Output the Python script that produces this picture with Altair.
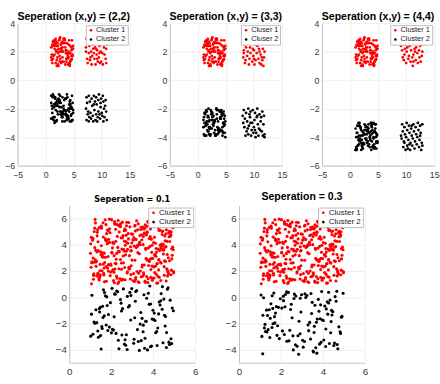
import altair as alt
import pandas as pd

RED = "#ff0000"
BLACK = "#000000"

# ---------------- top row: dense blocks ----------------
D1X = [1.2, 3.7, 2.5, 4.8, 1.9, 3.1, 4.3, 2.2, 1.5, 3.9,
       2.8, 4.6, 1.1, 3.4, 2.0, 4.1, 1.7, 3.0, 4.9, 2.6,
       1.4, 3.6, 2.3, 4.4, 1.8, 3.2, 4.7, 2.9, 1.3, 3.8,
       2.1, 4.2, 1.6, 3.5, 2.7, 4.0, 1.0, 3.3, 4.5, 2.4,
       1.9, 3.7, 2.8, 4.8, 1.2, 3.0, 4.3, 2.5, 1.6, 4.6,
       3.4, 2.2, 4.1, 1.5, 3.9, 2.9, 4.7, 1.1, 3.6, 2.0,
       4.4, 1.8, 3.1, 2.6, 4.9, 1.4, 3.3, 2.3, 4.0, 1.7,
       2.7, 4.5, 1.3, 3.8, 2.1, 4.2, 1.0, 3.5, 2.4, 4.8,
       1.6, 3.2, 2.9, 4.6, 1.9, 3.9, 2.2, 4.3, 1.2, 3.0,
       4.1, 2.5, 3.7, 1.5, 4.7, 2.8, 1.8, 3.4, 4.4, 2.0]
D1Y = [2.4, 1.3, 2.9, 1.7, 2.1, 2.6, 1.1, 1.9, 2.7, 1.5,
       1.2, 2.3, 1.8, 2.8, 1.4, 2.0, 2.5, 1.6, 2.2, 3.0,
       2.7, 1.9, 1.0, 2.4, 2.9, 1.3, 1.7, 2.1, 1.5, 2.6,
       1.6, 2.8, 2.2, 1.1, 2.5, 1.8, 2.3, 2.9, 1.4, 2.0,
       2.0, 1.5, 2.6, 2.2, 1.2, 2.7, 1.9, 1.3, 2.4, 1.7,
       2.9, 1.1, 1.6, 2.5, 1.8, 2.3, 2.8, 1.4, 2.1, 1.0,
       1.3, 2.6, 2.0, 1.5, 2.4, 1.7, 2.9, 2.2, 1.1, 2.7,
       2.2, 1.4, 2.7, 1.9, 2.6, 1.2, 1.6, 2.3, 2.8, 1.8,
       1.8, 2.9, 1.3, 2.1, 2.7, 1.6, 2.4, 1.0, 2.5, 2.3,
       2.5, 1.7, 2.1, 2.8, 1.5, 2.0, 1.2, 2.6, 1.9, 2.4]
D2X = [3.3, 1.4, 4.6, 2.1, 3.8, 1.0, 2.7, 4.2, 1.7, 3.5,
       4.9, 2.4, 1.2, 3.9, 2.9, 4.4, 1.6, 3.1, 2.2, 4.7,
       1.9, 3.6, 2.6, 4.0, 1.3, 3.2, 4.8, 2.0, 3.7, 1.5,
       4.3, 2.8, 1.1, 3.4, 2.3, 4.5, 1.8, 3.0, 4.1, 2.5,
       1.6, 4.7, 3.2, 2.0, 4.2, 1.4, 3.6, 2.7, 1.0, 3.9,
       2.2, 4.0, 1.7, 3.3, 4.6, 2.5, 1.2, 3.8, 2.9, 4.4,
       3.1, 1.5, 4.8, 2.3, 1.9, 3.5, 4.1, 1.1, 2.6, 4.9,
       1.8, 3.7, 2.1, 4.5, 3.0, 1.3, 2.8, 4.3, 1.6, 3.4,
       4.6, 2.4, 3.9, 1.0, 2.0, 4.2, 3.2, 1.7, 4.7, 2.7,
       1.4, 3.0, 4.4, 2.2, 3.6, 1.9, 4.0, 2.5, 1.2, 3.8]
D2Y = [-1.4, -2.6, -1.9, -2.2, -2.8, -1.1, -2.4, -1.7, -2.9, -1.3,
       -2.1, -1.6, -2.7, -1.2, -2.5, -1.8, -3.0, -2.3, -1.5, -2.0,
       -2.9, -1.3, -2.2, -2.6, -1.0, -2.0, -1.6, -2.8, -2.4, -1.7,
       -1.5, -2.3, -1.8, -2.9, -1.4, -2.5, -2.1, -1.2, -2.7, -1.9,
       -2.6, -1.1, -2.4, -1.7, -2.0, -2.8, -1.3, -2.2, -1.6, -2.5,
       -1.8, -2.7, -1.2, -2.1, -2.9, -1.5, -2.3, -1.0, -2.6, -1.4,
       -2.2, -1.9, -2.8, -1.3, -1.7, -2.4, -2.0, -2.7, -1.1, -2.3,
       -1.6, -2.5, -1.4, -2.0, -2.6, -1.2, -1.9, -2.9, -1.7, -2.1,
       -2.4, -1.0, -2.1, -2.7, -1.5, -2.2, -1.8, -1.3, -2.8, -1.6,
       -1.1, -2.9, -1.7, -2.4, -2.2, -1.8, -2.5, -1.4, -2.0, -2.7]
D3Y = [-2.3, -3.7, -2.8, -3.1, -2.0, -3.9, -2.5, -3.4, -2.1, -3.6,
       -3.0, -2.4, -3.8, -2.7, -3.3, -2.2, -3.5, -2.9, -4.0, -2.6,
       -3.2, -2.9, -2.1, -3.6, -2.5, -3.9, -2.7, -3.0, -2.3, -3.4,
       -2.8, -3.5, -2.2, -3.8, -3.1, -2.6, -3.3, -2.0, -3.7, -2.4,
       -3.6, -2.1, -3.2, -2.5, -3.9, -2.8, -2.3, -3.4, -2.9, -3.0,
       -2.4, -3.3, -2.7, -3.0, -2.2, -3.7, -3.1, -2.6, -3.5, -3.8,
       -3.9, -2.6, -3.5, -2.3, -2.9, -3.2, -2.0, -3.8, -2.7, -3.1,
       -2.5, -3.0, -2.4, -3.6, -3.4, -2.1, -2.8, -3.3, -2.2, -3.7,
       -3.1, -3.8, -2.9, -2.2, -2.6, -3.5, -3.9, -2.4, -3.0, -2.8,
       -2.7, -2.3, -3.4, -3.9, -3.2, -2.5, -3.6, -2.1, -3.3, -2.9]
D4Y = [-3.4, -4.6, -3.1, -4.2, -3.8, -4.9, -3.5, -4.0, -3.2, -4.7,
       -4.3, -3.7, -4.8, -3.0, -4.1, -3.6, -4.5, -3.3, -3.9, -4.4,
       -3.9, -4.1, -3.5, -4.7, -3.2, -4.3, -3.8, -4.9, -3.6, -3.0,
       -4.5, -3.3, -4.0, -3.7, -4.8, -3.1, -4.2, -3.5, -4.6, -3.8,
       -3.2, -4.8, -3.6, -4.4, -3.0, -4.6, -3.9, -4.1, -3.4, -4.3,
       -4.7, -3.5, -4.3, -3.1, -4.0, -3.8, -4.9, -3.2, -4.2, -3.6,
       -3.6, -4.2, -3.9, -4.5, -3.3, -4.0, -3.7, -4.7, -3.1, -4.4,
       -4.1, -3.0, -4.6, -3.4, -4.4, -3.7, -3.2, -4.8, -3.9, -4.5,
       -3.7, -4.4, -3.3, -4.9, -3.5, -4.1, -4.6, -3.0, -4.3, -3.8,
       -4.0, -3.8, -4.7, -3.6, -4.2, -3.4, -3.1, -4.5, -3.7, -4.9]

# ---------------- top row: sparse blocks ----------------
S1C1X = [7.3, 7.6, 7.2, 8.0, 8.4, 8.8, 9.2, 9.6, 10.0, 10.4, 10.8, 10.6, 7.4, 7.9, 8.3,
         8.7, 9.1, 9.5, 9.9, 10.2, 9.7, 10.7, 8.1, 8.6, 9.0, 9.4, 10.1, 7.7, 8.9, 9.3,
         10.5, 7.5, 8.2, 9.8, 10.9, 8.5, 9.2, 7.8, 10.3, 8.0, 9.6, 10.8, 7.2, 9.0, 8.7]
S1C1Y = [2.9, 2.6, 2.3, 2.8, 2.5, 2.3, 2.1, 2.4, 2.6, 2.3, 2.2, 2.7, 1.5, 1.4, 1.7,
         1.5, 1.8, 1.6, 1.3, 1.1, 1.2, 1.5, 2.0, 1.9, 2.6, 2.9, 1.9, 1.9, 1.1, 1.3,
         1.8, 1.2, 1.1, 2.0, 2.5, 2.2, 1.5, 2.4, 2.9, 1.6, 1.9, 1.2, 2.0, 2.2, 2.7]
S1C2X = [7.3, 7.7, 8.2, 8.6, 9.0, 9.5, 9.9, 10.3, 10.7, 7.4, 7.2, 7.5, 7.3, 7.7, 8.1,
         8.5, 8.9, 9.3, 9.7, 10.1, 10.5, 10.8, 10.4, 8.3, 8.7, 9.1, 9.4, 9.8, 10.0, 8.0,
         7.9, 8.4, 9.2, 10.6, 10.2, 8.8, 9.6, 7.6, 9.0, 10.9, 8.6, 9.4, 7.8, 10.3, 9.8]
S1C2Y = [-1.2, -1.1, -1.3, -1.1, -1.2, -1.0, -1.3, -1.5, -1.4, -1.6, -2.0, -2.4, -2.8, -2.9, -2.7,
         -2.9, -2.8, -2.6, -2.7, -2.5, -2.6, -2.2, -2.0, -1.8, -2.1, -1.7, -2.2, -1.9, -2.3, -2.3,
         -1.5, -2.5, -2.9, -1.8, -1.1, -1.5, -2.4, -2.2, -2.4, -2.8, -1.7, -1.4, -2.6, -2.9, -1.6]
S2C1X = [8.1, 8.3, 8.2, 8.1, 8.5, 8.8, 8.6, 9.0, 9.3, 9.4, 9.2, 9.7, 9.9, 10.0, 10.2,
         10.4, 10.6, 10.5, 10.8, 11.0, 11.3, 11.5, 11.7, 11.2, 11.6, 11.9, 11.4, 11.1, 10.9, 10.3,
         9.6, 9.1, 8.4, 8.9, 10.1, 11.8, 10.7, 9.5, 11.0, 8.7, 11.9, 10.0, 9.8, 11.4, 8.2]
S2C1Y = [2.9, 2.5, 2.1, 1.6, 1.4, 1.7, 2.3, 2.7, 2.3, 1.9, 1.5, 1.3, 1.7, 2.1, 2.5,
         2.9, 2.4, 1.9, 1.5, 1.2, 1.1, 1.4, 1.0, 1.8, 2.2, 2.0, 2.6, 2.8, 2.2, 1.4,
         2.6, 1.1, 1.2, 2.0, 1.1, 1.6, 2.7, 2.9, 2.0, 2.8, 2.9, 1.5, 2.2, 1.6, 1.9]
S2C2X = [8.2, 8.6, 9.0, 9.4, 9.8, 10.2, 10.6, 11.0, 11.5, 11.8, 8.4, 8.8, 9.3, 9.7, 10.1,
         10.5, 11.2, 11.7, 8.3, 8.7, 9.1, 9.6, 10.0, 10.4, 10.9, 11.4, 11.9, 8.5, 9.0, 9.5,
         10.3, 10.8, 11.6, 11.9, 9.2, 10.7, 8.1, 11.3, 9.9, 10.6, 8.9, 11.1, 9.4, 10.2, 8.0]
S2C2Y = [-2.1, -2.3, -2.0, -2.2, -2.1, -2.3, -2.0, -2.4, -2.2, -2.5, -2.7, -2.9, -2.6, -3.0, -2.8,
         -2.6, -2.9, -3.1, -3.3, -3.6, -3.2, -3.5, -3.3, -3.7, -3.4, -3.6, -3.8, -3.9, -3.8, -3.9,
         -4.0, -3.9, -3.9, -4.0, -2.4, -3.1, -3.0, -2.6, -3.7, -2.5, -3.4, -3.5, -3.0, -3.5, -2.5]
S3C1X = [9.2, 9.5, 9.9, 10.3, 10.6, 11.0, 11.4, 11.8, 12.2, 12.5, 9.3, 9.7, 10.1, 10.5, 10.9,
         11.3, 11.6, 12.0, 12.4, 12.8, 9.6, 10.0, 10.4, 10.8, 11.2, 11.7, 12.1, 12.6, 9.4, 10.2,
         11.5, 12.3, 11.1, 9.8, 12.7, 10.7, 11.9, 9.1, 12.9, 11.3]
S3C1Y = [2.9, 2.7, 2.5, 2.8, 2.4, 2.9, 2.6, 2.3, 2.7, 2.4, 2.1, 1.8, 2.0, 1.7, 2.1,
         1.8, 2.0, 1.9, 1.6, 1.7, 1.4, 1.2, 1.5, 1.3, 1.0, 1.4, 1.2, 1.3, 1.6, 2.3,
         2.2, 2.1, 1.6, 2.2, 2.5, 2.6, 2.8, 2.4, 2.0, 1.3]
S3C2X = [9.3, 9.7, 10.1, 10.5, 10.9, 11.3, 11.7, 12.1, 12.5, 12.9, 9.4, 9.8, 10.2, 10.6, 11.0,
         11.4, 11.8, 12.2, 12.6, 9.2, 9.6, 10.0, 10.4, 10.8, 11.2, 11.6, 12.0, 12.4, 12.8, 9.5,
         9.9, 10.3, 10.7, 11.1, 11.5, 12.3, 12.7, 10.2, 11.9, 9.1, 12.9, 11.0, 10.6, 12.5, 9.7]
S3C2Y = [-3.1, -3.3, -3.0, -3.2, -3.4, -3.1, -3.3, -3.0, -3.2, -3.1, -3.6, -3.8, -3.5, -3.7, -3.9,
         -3.6, -3.8, -3.5, -3.7, -4.1, -4.3, -4.0, -4.2, -4.4, -4.1, -4.3, -4.0, -4.2, -4.4, -4.7,
         -4.9, -4.8, -4.9, -4.6, -4.8, -4.7, -4.9, -4.6, -4.5, -3.9, -4.6, -3.2, -4.5, -3.9, -4.4]

# ---------------- bottom row ----------------
RX = [3.47, 1.82, 4.61, 2.25, 1.13, 3.98, 2.74, 4.36, 1.59, 3.02, 4.87, 2.41, 1.36, 3.65, 2.08, 4.19, 1.71, 3.33, 4.72, 2.56,
      1.94, 4.04, 2.87, 3.51, 1.27, 4.48, 2.13, 3.79, 1.66, 4.93, 2.62, 3.16, 1.05, 4.27, 2.39, 3.88, 1.48, 4.66, 2.95, 3.24,
      4.15, 1.38, 3.71, 2.49, 4.82, 1.77, 3.09, 2.21, 4.54, 1.11, 3.43, 2.68, 4.01, 1.89, 3.57, 2.32, 4.39, 1.54, 3.84, 2.79,
      2.03, 4.58, 1.62, 3.36, 2.91, 4.24, 1.19, 3.73, 2.47, 4.97, 1.85, 3.12, 2.64, 4.43, 1.31, 3.95, 2.18, 4.69, 1.74, 3.28,
      3.61, 2.37, 4.76, 1.45, 3.19, 2.83, 4.12, 1.02, 3.54, 2.26, 4.63, 1.69, 3.91, 2.52, 4.31, 1.23, 3.67, 2.98, 4.85, 1.57,
      1.29, 3.81, 2.15, 4.47, 1.92, 3.39, 2.71, 4.09, 1.41, 3.62, 2.44, 4.79, 1.16, 3.26, 2.89, 4.52, 1.78, 3.04, 2.34, 4.21,
      4.41, 1.64, 3.14, 2.58, 4.91, 1.34, 3.76, 2.06, 4.28, 1.83, 3.46, 2.77, 4.64, 1.08, 3.93, 2.29, 4.17, 1.52, 3.58, 2.92,
      2.66, 4.33, 1.24, 3.87, 2.12, 4.73, 1.49, 3.21, 2.85, 4.06, 1.73, 3.69, 2.43, 4.89, 1.37, 3.11, 2.59, 4.46, 1.97, 3.44,
      3.29, 1.99, 4.57, 2.36, 3.64, 1.21, 4.26, 2.97, 3.07, 1.67, 4.81, 2.19, 3.52, 1.43, 4.13, 2.73, 3.83, 1.09, 4.68, 2.51,
      1.58, 4.86, 2.94, 3.18, 1.76, 4.37, 2.27, 3.96, 1.33, 4.59, 2.61, 3.41, 1.87, 4.02, 2.48, 3.74, 1.15, 4.44, 2.09, 3.59,
      4.71, 2.22, 3.34, 1.61, 4.18, 2.81, 3.63, 1.26, 4.94, 2.07, 3.86, 1.51, 4.29, 2.69, 3.13, 1.81, 4.53, 2.35, 3.77, 1.04,
      2.54, 3.92, 1.44, 4.62, 2.31, 3.48, 1.91, 4.11, 2.76, 3.27, 1.18, 4.77, 2.46, 3.68, 1.63, 4.34, 2.88, 3.03, 1.39, 4.96,
      3.89, 1.53, 4.23, 2.67, 3.37, 1.06, 4.49, 2.17, 3.81, 1.72, 4.08, 2.93, 3.56, 1.28, 4.74, 2.42, 3.22, 1.86, 4.38, 2.63,
      1.35, 4.14, 2.84, 3.53, 1.68, 4.92, 2.24, 3.38, 1.95, 4.67, 2.53, 3.78, 1.12, 4.22, 2.78, 3.49, 1.56, 4.83, 2.04, 3.17,
      4.51, 2.11, 3.72, 1.47, 4.05, 2.57, 3.31, 1.79, 4.78, 2.33, 3.97, 1.22, 4.42, 2.86, 3.08, 1.65, 4.16, 2.45, 3.66, 1.93,
      2.28, 3.58, 1.07, 4.32, 2.72, 3.23, 1.88, 4.65, 2.16, 3.85, 1.42, 4.55, 2.99, 3.42, 1.17, 4.07, 2.38, 3.94, 1.75, 4.88,
      3.06, 1.46, 4.45, 2.02, 3.49, 1.84, 4.27, 2.65, 3.75, 1.32, 4.84, 2.23, 3.15, 1.98, 4.56, 2.82, 3.61, 1.25, 4.35, 2.14,
      1.86, 4.25, 2.55, 3.32, 1.14, 4.75, 2.96, 3.55, 1.62, 4.03, 2.44, 3.89, 1.53, 4.61, 2.18, 3.26, 1.01, 4.98, 2.71, 3.71]
RY = [2.31, 5.14, 3.87, 1.62, 4.45, 2.96, 5.73, 1.28, 3.39, 4.82, 2.07, 5.51, 1.84, 3.66, 4.19, 2.58, 5.92, 1.13, 3.02, 4.71,
      4.93, 1.47, 3.18, 5.36, 2.69, 4.04, 1.91, 5.67, 2.24, 3.83, 5.08, 1.36, 4.58, 2.85, 3.47, 5.81, 1.69, 4.27, 2.41, 3.95,
      1.75, 3.56, 5.42, 2.14, 4.67, 1.22, 3.91, 5.19, 2.78, 4.36, 1.57, 3.24, 5.63, 2.49, 4.88, 1.05, 3.73, 5.27, 2.91, 4.12,
      3.44, 5.87, 2.52, 4.21, 1.39, 3.68, 5.02, 2.83, 4.54, 1.96, 3.11, 5.45, 2.27, 4.79, 1.64, 3.97, 5.58, 2.05, 4.33, 1.18,
      5.29, 2.18, 4.62, 1.54, 3.81, 5.71, 2.39, 4.08, 1.87, 3.35, 5.16, 2.66, 4.44, 1.31, 3.58, 5.95, 2.94, 4.15, 1.72, 3.07,
      2.76, 4.49, 1.11, 3.62, 5.24, 2.01, 4.73, 3.29, 1.49, 5.53, 2.88, 4.26, 1.67, 3.92, 5.38, 2.34, 4.86, 1.26, 3.52, 5.77,
      4.06, 1.83, 5.49, 2.63, 3.21, 4.97, 1.42, 3.77, 5.11, 2.22, 4.39, 1.94, 5.64, 2.71, 3.43, 4.65, 1.08, 5.33, 2.47, 3.86,
      1.34, 3.99, 2.86, 5.21, 4.11, 1.77, 3.48, 5.84, 2.16, 4.59, 3.05, 1.59, 5.41, 2.93, 4.24, 1.21, 3.64, 5.06, 2.54, 4.77,
      5.62, 2.44, 4.31, 1.16, 3.74, 5.28, 2.09, 4.84, 1.81, 3.37, 5.88, 2.59, 4.02, 1.45, 3.13, 5.46, 2.81, 4.52, 1.63, 3.69,
      3.16, 5.01, 1.73, 4.42, 2.35, 3.84, 5.57, 1.29, 4.69, 2.74, 3.54, 5.18, 1.99, 4.18, 2.62, 5.79, 1.38, 3.94, 2.11, 4.91,
      1.92, 4.27, 3.33, 5.69, 2.56, 4.87, 1.14, 3.59, 5.31, 2.04, 4.63, 3.26, 1.53, 5.12, 2.83, 4.09, 1.68, 5.48, 3.76, 2.29,
      4.55, 2.97, 5.34, 1.24, 3.81, 2.46, 5.97, 4.13, 1.86, 3.41, 2.67, 5.04, 1.33, 4.76, 3.08, 5.59, 2.19, 4.37, 1.76, 3.63,
      2.12, 5.44, 1.58, 3.97, 4.72, 1.03, 3.31, 5.66, 2.73, 4.47, 1.89, 3.53, 5.21, 2.36, 4.92, 1.41, 3.86, 5.09, 2.61, 4.29,
      5.17, 3.72, 2.28, 4.64, 1.19, 5.52, 2.91, 4.01, 1.65, 3.27, 5.74, 2.43, 4.51, 1.09, 3.67, 5.26, 2.02, 4.81, 3.38, 1.51,
      3.61, 1.27, 4.96, 2.51, 5.43, 3.15, 1.84, 4.35, 2.79, 5.86, 1.44, 3.79, 5.03, 2.26, 4.57, 1.71, 3.45, 5.61, 2.95, 4.19,
      1.46, 4.83, 2.64, 5.13, 3.52, 1.97, 4.43, 2.17, 5.78, 3.89, 1.32, 4.68, 2.84, 5.35, 1.79, 3.23, 4.98, 2.38, 5.55, 3.71,
      4.38, 2.03, 3.64, 5.93, 1.61, 4.16, 2.89, 5.24, 1.12, 3.46, 4.74, 2.57, 5.07, 1.93, 3.82, 4.46, 1.23, 5.68, 2.68, 3.18,
      2.49, 5.32, 1.37, 4.06, 2.99, 5.83, 3.57, 1.74, 4.61, 2.32, 5.39, 1.52, 3.93, 4.85, 2.15, 5.15, 3.36, 1.88, 4.23, 5.01]
B4X = [1.52, 2.31, 3.64, 4.12, 1.08, 2.87, 3.29, 4.71, 1.76, 2.49, 3.92, 4.38, 1.27, 2.06, 3.47, 4.85, 1.63, 2.72, 3.15, 4.54,
       4.26, 1.39, 2.58, 3.81, 1.91, 4.63, 2.14, 3.56, 1.02, 4.91, 2.93, 3.07, 1.68, 4.17, 2.44, 3.73, 1.45, 4.44, 2.66, 3.38,
       2.19, 3.95, 1.57, 4.78, 2.82, 3.21, 1.13, 4.05, 2.37, 3.69, 1.84, 4.59, 2.98, 3.43, 1.31, 4.33, 2.01, 3.87, 1.72, 4.96,
       3.52, 1.96, 4.47, 2.26, 3.12, 1.49, 4.81, 2.69, 3.77, 1.18, 4.22, 2.54, 3.34, 1.87, 4.68, 2.11, 3.61, 1.59, 4.09, 2.77,
       1.43, 4.57, 2.89, 3.59, 1.67, 4.36, 2.23, 3.84, 1.22, 4.75, 2.47, 3.25, 1.79, 4.02, 2.63, 3.99, 1.55, 4.51, 2.34, 3.17,
       4.88, 2.04, 3.41, 1.36, 4.29, 2.76, 3.67, 1.81, 4.64, 2.16, 3.09, 1.61, 4.43, 2.51, 3.88, 1.06, 4.19, 2.94, 3.53, 1.48]
B4Y = [-3.95, 0.42, -1.83, -2.71, 0.15, -0.64, -3.38, 0.73, -2.12, -1.05, -3.72, 0.28, -0.96, -2.44, -1.61, -3.17, 0.57, -2.86, -0.31, -1.38,
       -1.27, -3.06, 0.64, -0.53, -2.28, -3.84, -1.49, 0.19, -2.97, -0.82, -1.74, -3.51, 0.36, -2.61, -0.17, -4.02, -1.12, 0.81, -3.24, -2.05,
       0.23, -1.66, -2.39, -3.61, -0.75, 0.52, -2.83, -1.21, -3.93, -0.08, -2.54, -1.47, 0.66, -3.31, -1.94, -0.59, -2.72, -3.78, 0.11, -1.03,
       -2.63, -0.41, -3.47, 0.48, -1.57, -2.93, -0.22, -3.66, 0.31, -1.89, -2.35, -0.87, -4.06, -1.32, 0.61, -2.51, -3.13, -0.69, -1.78, 0.07,
       -0.88, -2.19, 0.37, -3.89, -1.41, -0.27, -2.76, 0.86, -1.99, -3.43, -0.45, -2.47, 0.03, -1.69, -3.58, -0.99, -2.24, -0.14, -3.29, 0.44,
       -3.54, 0.68, -1.17, -2.58, -0.36, -3.99, -1.84, -0.63, -2.69, 0.26, -3.21, -1.54, -0.92, -2.88, -0.51, -1.29, -3.69, 0.14, -2.13, -0.77]
B5X = [1.13, 2.64, 3.37, 4.82, 1.58, 2.19, 3.91, 4.27, 1.84, 2.95, 3.06, 4.58, 1.31, 2.42, 3.73, 4.04, 1.66, 2.81, 3.49, 4.91,
       4.43, 1.92, 2.27, 3.62, 1.21, 4.71, 2.53, 3.18, 1.47, 4.16, 2.86, 3.84, 1.05, 4.37, 2.12, 3.55, 1.74, 4.66, 2.38, 3.29,
       2.71, 3.97, 1.39, 4.52, 2.04, 3.43, 1.81, 4.23, 2.59, 3.78, 1.26, 4.88, 2.33, 3.12, 1.62, 4.09, 2.91, 3.66, 1.17, 4.47,
       3.58, 1.52, 4.31, 2.21, 3.87, 1.09, 4.63, 2.77, 3.24, 1.71, 4.14, 2.46, 3.71, 1.36, 4.96, 2.07, 3.41, 1.88, 4.39, 2.62,
       1.44, 4.76, 2.98, 3.53, 1.69, 4.21, 2.16, 3.94, 1.24, 4.55, 2.49, 3.32, 1.97, 4.02, 2.69, 3.81, 1.57, 4.34, 2.28, 3.14,
       4.68, 2.35, 3.46, 1.33, 4.27, 2.84, 3.69, 1.78, 4.84, 2.11, 3.03, 1.49, 4.41, 2.57, 3.89, 1.14, 4.13, 2.92, 3.59, 1.61]
B5Y = [-4.31, 0.24, -1.92, -2.63, 0.11, -0.72, -3.44, 0.38, -2.18, -1.13, -3.81, 0.05, -0.98, -2.52, -1.67, -3.26, 0.33, -2.94, -0.39, -1.45,
       -1.35, -3.16, 0.41, -0.61, -2.34, -3.93, -1.56, -0.02, -3.07, -0.89, -1.83, -3.58, 0.17, -2.71, -0.26, -4.18, -1.21, 0.46, -3.33, -2.11,
       0.09, -1.74, -2.47, -3.69, -0.83, 0.29, -2.91, -1.29, -4.02, -0.16, -2.61, -1.53, 0.36, -3.38, -2.03, -0.67, -2.79, -3.86, -0.04, -1.11,
       -2.69, -0.49, -3.53, 0.21, -1.64, -2.99, -0.31, -3.74, 0.13, -1.96, -2.42, -0.94, -4.27, -1.39, 0.31, -2.57, -3.19, -0.77, -1.86, -0.09,
       -0.96, -2.26, 0.19, -4.11, -1.48, -0.35, -2.84, 0.44, -2.07, -3.49, -0.53, -2.55, -0.12, -1.77, -3.63, -1.07, -2.31, -0.21, -3.36, 0.26,
       -3.61, 0.37, -1.24, -2.66, -0.43, -4.36, -1.91, -0.71, -2.76, 0.07, -3.29, -1.61, -0.99, -2.95, -0.58, -1.37, -3.76, -0.07, -2.21, -0.85]

TITLES_TOP = ["Seperation (x,y) = (2,2)", "Seperation (x,y) = (3,3)", "Seperation (x,y) = (4,4)"]
TITLES_BOTTOM = ["Seperation = 0.1", "Seperation = 0.3"]
LABELS = ["Cluster 1", "Cluster 2"]
LABELS_TYPO = ["Cluser 1", "Cluser 2"]
TOP_XTICKS = [-5, 0, 5, 10, 15]
TOP_YTICKS = [-6, -4, -2, 0, 2, 4]
BOT_XTICKS = [0, 2, 4, 6]
BOT_YTICKS = [-4, -2, 0, 2, 4, 6]


def frame(groups):
    rows = []
    for label, xs, ys in groups:
        for x, y in zip(xs, ys):
            rows.append({"x": x, "y": y, "c": label})
    return pd.DataFrame(rows)


def panel(df, labels, title, tfont, tsize, toffset, xdom, xvals, ydom, yvals,
          w, h, size, tick_fs, ext, xpad, leg_fs, leg_pad):
    return alt.Chart(df).mark_circle(size=size, opacity=1).encode(
        x=alt.X("x:Q", scale=alt.Scale(domain=xdom, nice=False, zero=False),
                axis=alt.Axis(values=xvals, title=None, labelFlush=False, labelOverlap=False,
                              labelPadding=xpad, labelFontSize=tick_fs, ticks=False)),
        y=alt.Y("y:Q", scale=alt.Scale(domain=ydom, nice=False, zero=False),
                axis=alt.Axis(values=yvals, title=None, labelOverlap=False, labelPadding=3,
                              labelFontSize=tick_fs, ticks=False, minExtent=ext, maxExtent=ext)),
        color=alt.Color("c:N", scale=alt.Scale(domain=labels, range=[RED, BLACK]),
                        legend=alt.Legend(title=None, orient="top-right", offset=2, padding=leg_pad,
                                          rowPadding=0.5, labelFontSize=leg_fs, symbolSize=7,
                                          symbolType="circle", labelOffset=1.5, symbolStrokeWidth=0,
                                          strokeColor="#bdbdbd", fillColor="white")),
    ).properties(
        width=w, height=h,
        title=alt.TitleParams(title, font=tfont, fontSize=tsize, fontWeight="bold", color="black",
                              offset=toffset, baseline="alphabetic", anchor="middle"),
    )


TW, TH = 115, 146
BW, BH = 129, 161

p1 = panel(frame([(LABELS[0], D1X, D1Y), (LABELS[0], S1C1X, S1C1Y),
                  (LABELS[1], D2X, D2Y), (LABELS[1], S1C2X, S1C2Y)]),
           LABELS, TITLES_TOP[0], "Liberation Sans", 10.8, -11.5, [-5, 15], TOP_XTICKS, [-6, 4], TOP_YTICKS,
           TW, TH, 8, 9, 11, 5, 7.5, 1.5)
p2 = panel(frame([(LABELS_TYPO[0], D1X, D1Y), (LABELS_TYPO[0], S2C1X, S2C1Y),
                  (LABELS_TYPO[1], D1X, D3Y), (LABELS_TYPO[1], S2C2X, S2C2Y)]),
           LABELS_TYPO, TITLES_TOP[1], "Liberation Sans", 10.8, -11.5, [-5, 15], TOP_XTICKS, [-6, 4], TOP_YTICKS,
           TW, TH, 8, 9, 11, 5, 7.5, 1.5)
p3 = panel(frame([(LABELS[0], D1X, D1Y), (LABELS[0], S3C1X, S3C1Y),
                  (LABELS[1], D2X, D4Y), (LABELS[1], S3C2X, S3C2Y)]),
           LABELS, TITLES_TOP[2], "Liberation Sans", 10.8, -11.5, [-5, 15], TOP_XTICKS, [-6, 4], TOP_YTICKS,
           TW, TH, 8, 9, 11, 5, 7.5, 1.5)
p4 = panel(frame([(LABELS[0], RX, RY), (LABELS[1], B4X, B4Y)]),
           LABELS, TITLES_BOTTOM[0], "DejaVu Sans", 8.2, -4, [0, 6], BOT_XTICKS, [-5, 7], BOT_YTICKS,
           BW, BH, 10, 10, 12, 4, 8.2, 1.3)
p5 = panel(frame([(LABELS[0], RX, RY), (LABELS[1], B5X, B5Y)]),
           LABELS, TITLES_BOTTOM[1], "Liberation Sans", 10.8, -5, [0, 6], BOT_XTICKS, [-5, 7], BOT_YTICKS,
           BW, BH, 10, 10, 12, 4, 8.2, 1.3)

# invisible spacer that shifts the bottom row to the right
spacer = alt.Chart(pd.DataFrame({"v": [0]})).mark_point(opacity=0, size=1).encode(
    x=alt.value(0), y=alt.value(0)
).properties(width=11, height=10)

top = alt.hconcat(p1, p2, p3, spacing=21).resolve_scale(
    x="independent", y="independent", color="independent").resolve_legend(color="independent")
bottom = alt.hconcat(spacer, p4, p5, spacing=26).resolve_scale(
    x="independent", y="independent", color="independent").resolve_legend(color="independent")

chart = alt.vconcat(top, bottom, spacing=10).resolve_scale(
    x="independent", y="independent", color="independent").resolve_legend(color="independent").properties(
    padding={"left": 4, "top": 6, "right": 0, "bottom": 0},
    background="white",
).configure_axis(
    labelFont="Liberation Sans", labelColor="#3a3a3a", gridColor="#ebebeb", gridWidth=0.8,
    domainColor="#c2c2c2", domainWidth=1,
).configure_legend(
    labelFont="Liberation Sans", labelColor="#1a1a1a", cornerRadius=0,
).configure_view(stroke="transparent")

chart.save("out.html", embed_options={"renderer": "svg", "actions": False})
